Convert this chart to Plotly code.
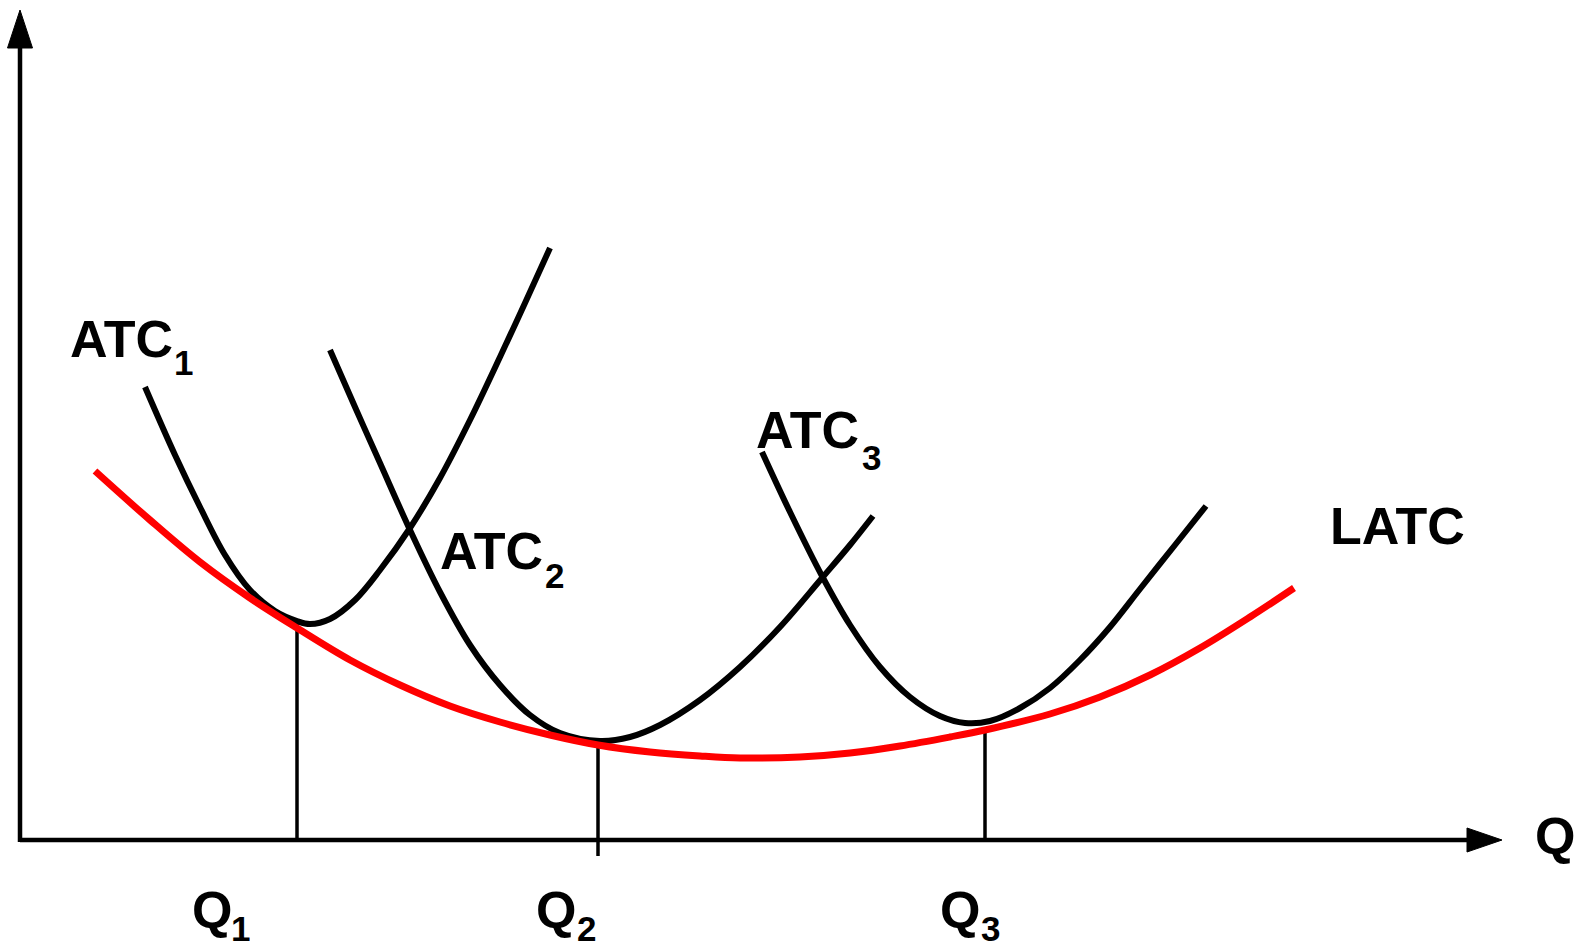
import plotly.graph_objects as go

# ---- data (Q = quantity, C = cost) ----
ATC1_Q = [125, 155, 180, 205, 230, 255, 277, 290, 310, 335, 360, 390, 420, 450, 480, 505, 530]
ATC1_C = [453, 385, 333, 285, 250, 229, 219, 216, 221, 240, 270, 312, 362, 420, 483, 537, 592]

ATC2_Q = [310, 335, 360, 390, 420, 450, 480, 510, 540, 580, 610, 640, 680, 720, 760, 802, 830, 853]
ATC2_C = [490, 433, 377, 310, 248, 195, 155, 125, 107, 99, 103, 115, 140, 173, 213, 262, 295, 324]

ATC3_Q = [742, 770, 802, 830, 860, 890, 920, 945, 970, 1000, 1030, 1060, 1090, 1120, 1155, 1186]
ATC3_C = [388, 328, 264, 215, 173, 143, 124, 117, 119, 132, 152, 180, 213, 251, 295, 334]

LATC_Q = [75, 130, 180, 230, 277, 330, 380, 430, 480, 530, 578, 630, 680, 720, 780, 830,
          880, 930, 965, 1030, 1080, 1130, 1180, 1230, 1274]
LATC_C = [369, 320, 278, 242, 212, 180, 155, 134, 118, 105, 95, 88, 84, 82, 83, 87,
          94, 103, 110, 126, 143, 165, 192, 223, 252]

Q_TICKS = [277, 578, 965]
Q_TOPS = [220, 99, 112]
Q_BOTTOMS = [0, -16, 0]

# label texts
MAIN_TEXTS = ["ATC", "ATC", "ATC", "LATC", "Q", "Q", "Q", "Q"]
SUB_TEXTS = ["1", "2", "3", "", "", "1", "2", "3"]

# label placement (layout, not data)
MAIN_POS = [(48, 501), (418, 289), (734, 410), (1308, 314), (1513, 4),
            (170, -70), (514, -70), (918, -70)]
SUB_POS = [(152, 478), (523, 265), (840, 383), None, None,
           (209, -88), (555, -88), (959, -88)]

X_END = 1482
Y_END = 830

FONT = "Liberation Sans, Arial, sans-serif"
MAIN_SIZE = 52
SUB_SIZE = 35

fig = go.Figure()

# axes
fig.add_trace(go.Scatter(x=[0, X_END - 30], y=[0, 0], mode="lines",
                         line=dict(color="black", width=4.5), hoverinfo="skip"))
fig.add_trace(go.Scatter(x=[0, 0], y=[-2, Y_END - 30], mode="lines",
                         line=dict(color="black", width=4.5), hoverinfo="skip"))
# arrow heads
fig.add_trace(go.Scatter(x=[X_END - 35, X_END, X_END - 35, X_END - 35], y=[12, 0, -12, 12],
                         mode="lines", fill="toself", fillcolor="black",
                         line=dict(color="black", width=1), hoverinfo="skip"))
fig.add_trace(go.Scatter(x=[-12.5, 0, 12.5, -12.5], y=[Y_END - 38, Y_END, Y_END - 38, Y_END - 38],
                         mode="lines", fill="toself", fillcolor="black",
                         line=dict(color="black", width=1), hoverinfo="skip"))

# vertical drop lines
for q, top, bot in zip(Q_TICKS, Q_TOPS, Q_BOTTOMS):
    fig.add_trace(go.Scatter(x=[q, q], y=[bot, top], mode="lines",
                             line=dict(color="black", width=3.5), hoverinfo="skip"))

# short-run curves
for qs, cs in [(ATC1_Q, ATC1_C), (ATC2_Q, ATC2_C), (ATC3_Q, ATC3_C)]:
    fig.add_trace(go.Scatter(x=qs, y=cs, mode="lines",
                             line=dict(color="black", width=6, shape="spline", smoothing=1.0),
                             hoverinfo="skip"))
# long-run curve
fig.add_trace(go.Scatter(x=LATC_Q, y=LATC_C, mode="lines",
                         line=dict(color="#ff0000", width=7, shape="spline", smoothing=1.0),
                         hoverinfo="skip"))

# labels
for main, sub, mp, sp in zip(MAIN_TEXTS, SUB_TEXTS, MAIN_POS, SUB_POS):
    fig.add_annotation(x=mp[0], y=mp[1], text="<b>" + main + "</b>", showarrow=False,
                       xanchor="left", yanchor="middle",
                       font=dict(family=FONT, size=MAIN_SIZE, color="black"))
    if sub:
        fig.add_annotation(x=sp[0], y=sp[1], text="<b>" + sub + "</b>", showarrow=False,
                           xanchor="left", yanchor="middle", height=26, valign="middle",
                           font=dict(family=FONT, size=SUB_SIZE, color="black"))

fig.update_layout(
    width=1575, height=950,
    margin=dict(l=0, r=0, t=0, b=0),
    paper_bgcolor="white", plot_bgcolor="white",
    showlegend=False,
    font=dict(family=FONT),
    xaxis=dict(range=[-20, 1555], visible=False, fixedrange=True),
    yaxis=dict(range=[-110, 840], visible=False, fixedrange=True),
)

fig.write_html("out.html", config={"displayModeBar": False},
               post_script="document.body.style.margin='0';document.body.style.overflow='hidden';")
